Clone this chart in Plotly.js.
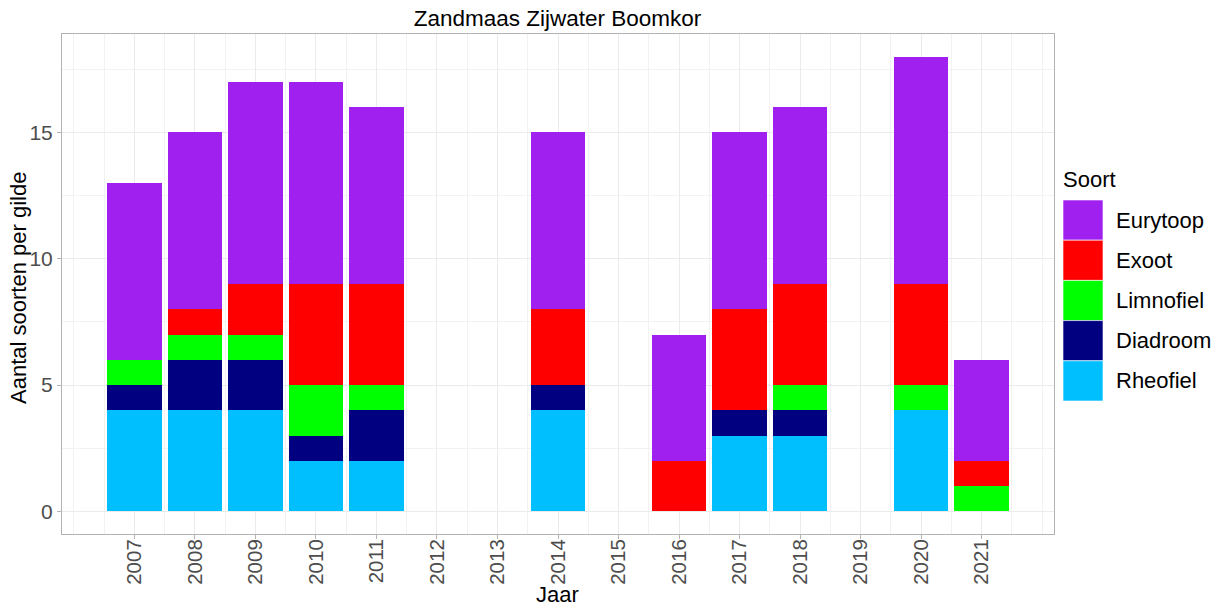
<!DOCTYPE html>
<html><head><meta charset="utf-8">
<script src="https://cdn.plot.ly/plotly-3.0.1.min.js"></script>
<style>html,body{margin:0;padding:0;background:#fff}#chart{width:1222px;height:608px}</style>
</head><body><div id="chart"></div>
<script>
const years     = [2007, 2008, 2009, 2010, 2011, 2014, 2016, 2017, 2018, 2020, 2021];
const rheofiel  = [4, 4, 4, 2, 2, 4, 0, 3, 3, 4, 0];
const diadroom  = [1, 2, 2, 1, 2, 1, 0, 1, 1, 0, 0];
const limnofiel = [1, 1, 1, 2, 1, 0, 0, 0, 1, 1, 1];
const exoot     = [0, 1, 2, 4, 4, 3, 2, 4, 4, 4, 1];
const eurytoop  = [7, 7, 8, 8, 7, 7, 5, 7, 7, 9, 4];
const tickYears = [2007, 2008, 2009, 2010, 2011, 2012, 2013, 2014, 2015, 2016, 2017, 2018, 2019, 2020, 2021];
const yTicks    = [0, 5, 10, 15];
const seriesNames  = ["Rheofiel", "Diadroom", "Limnofiel", "Exoot", "Eurytoop"];
const seriesValues = [rheofiel, diadroom, limnofiel, exoot, eurytoop];
const seriesColors = ["#00BFFF", "#000080", "#00FF00", "#FF0000", "#A020F0"];
const chartTitle = "Zandmaas Zijwater Boomkor";
const xTitle = "Jaar";
const yTitle = "Aantal soorten per gilde";
const legendTitle = "Soort";

const FONT = "Arial, 'Liberation Sans', sans-serif";
const W = 1222, H = 608;
const M = {l: 62, r: 168, t: 34, b: 74};
const PW = W - M.l - M.r, PH = H - M.t - M.b;
const px2x = p => (p - M.l) / PW;
const px2y = p => (H - M.b - p) / PH;

const traces = seriesNames.map((n, i) => ({
  type: 'bar', name: n, x: years, y: seriesValues[i], width: 0.9,
  marker: {color: seriesColors[i], line: {width: 0}},
  showlegend: false, hoverinfo: 'skip'
}));

// minor grid positions (half-years and outer whole years)
const minorX = [2006, 2022];
for (let v = 2006.5; v < 2022; v += 1) minorX.push(v);

const shapes = [], annotations = [];
const legNames = seriesNames.slice().reverse();
const legColors = seriesColors.slice().reverse();
const sw0 = 1063, sw1 = 1103, top0 = 200, sh = 40.2;
legNames.forEach((n, i) => {
  const y0 = top0 + i * sh, y1 = y0 + sh;
  shapes.push({type: 'rect', xref: 'paper', yref: 'paper',
    x0: px2x(sw0), x1: px2x(sw1), y0: px2y(y1), y1: px2y(y0),
    fillcolor: legColors[i], line: {width: 0.6, color: '#ffffff'}});
  annotations.push({xref: 'paper', yref: 'paper', x: px2x(1114), y: px2y((y0 + y1) / 2),
    xanchor: 'left', yanchor: 'middle', text: n, showarrow: false,
    font: {family: FONT, size: 22, color: '#000'}});
});
annotations.push({xref: 'paper', yref: 'paper', x: px2x(1061), y: px2y(179),
  xanchor: 'left', yanchor: 'middle', text: legendTitle, showarrow: false,
  font: {family: FONT, size: 22, color: '#000'}});
// axis titles
annotations.push({xref: 'paper', yref: 'paper', x: px2x(557), y: px2y(608),
  xanchor: 'center', yanchor: 'bottom', text: xTitle, showarrow: false, borderpad: 0,
  font: {family: FONT, size: 22, color: '#000'}});
annotations.push({xref: 'paper', yref: 'paper', x: px2x(18), y: px2y(288),
  xanchor: 'center', yanchor: 'middle', text: yTitle, showarrow: false, textangle: -90,
  font: {family: FONT, size: 22, color: '#000'}});

const layout = {
  width: W, height: H, margin: M, barmode: 'stack',
  paper_bgcolor: '#fff', plot_bgcolor: '#fff',
  font: {family: FONT, color: '#4d4d4d'},
  title: {text: chartTitle, x: px2x(557.5), xref: 'paper', y: 1 - 18 / H, yref: 'container',
    xanchor: 'center', yanchor: 'middle', font: {family: FONT, size: 22.5, color: '#000'}},
  xaxis: {
    range: [2005.805, 2022.195], tickmode: 'array', tickvals: tickYears,
    ticktext: tickYears.map(String), tickangle: -90, ticklabelstandoff: -8,
    tickfont: {family: FONT, size: 20.5, color: '#4d4d4d'},
    ticks: 'outside', ticklen: 4, tickcolor: '#b3b3b3', tickwidth: 1,
    showgrid: true, gridcolor: '#ebebeb', gridwidth: 1, zeroline: false,
    showline: true, mirror: true, linecolor: '#b3b3b3', linewidth: 1,
    minor: {tickmode: 'array', tickvals: minorX, showgrid: true, gridcolor: '#f2f2f2', gridwidth: 1, ticks: ''},
    automargin: false, fixedrange: true
  },
  yaxis: {
    range: [-0.9, 18.9], tickmode: 'array', tickvals: yTicks, ticktext: yTicks.map(String),
    tickfont: {family: FONT, size: 21, color: '#4d4d4d'},
    ticks: 'outside', ticklen: 4, tickcolor: '#b3b3b3', tickwidth: 1,
    showgrid: true, gridcolor: '#ebebeb', gridwidth: 1, zeroline: false,
    showline: true, mirror: true, linecolor: '#b3b3b3', linewidth: 1,
    minor: {dtick: 2.5, tick0: 0, showgrid: true, gridcolor: '#f2f2f2', gridwidth: 1, ticks: ''},
    automargin: false, fixedrange: true
  },
  shapes: shapes, annotations: annotations
};

Plotly.newPlot('chart', traces, layout, {staticPlot: true, displayModeBar: false});
</script>
</body></html>
